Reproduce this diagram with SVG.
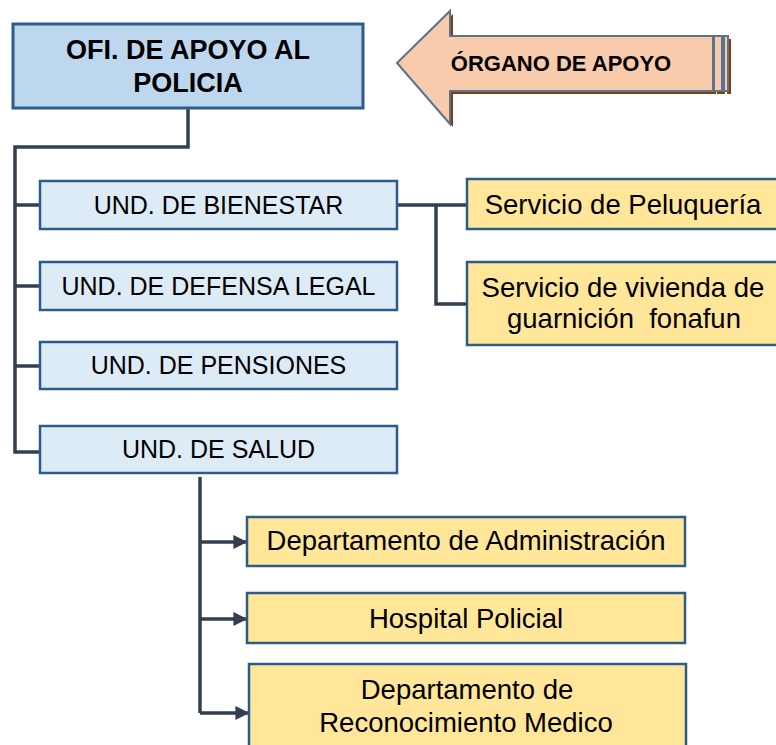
<svg xmlns="http://www.w3.org/2000/svg" width="776" height="745" viewBox="0 0 776 745">
<defs>
<style>
.top{fill:#BDD7EE;stroke:#2E5C8A;stroke-width:3}
.unit{fill:#DDEBF7;stroke:#2E5C8A;stroke-width:2.5}
.sub{fill:#FFE699;stroke:#2E5C8A;stroke-width:2.5}
.conn{fill:none;stroke:#333F50;stroke-width:3.5}
text{font-family:"Liberation Sans",Arial,sans-serif;fill:#000;text-anchor:middle}
.tb{font-size:27px;font-weight:bold}
.tu{font-size:25px}
.ts{font-size:27.5px}
.ta{font-size:22px;font-weight:bold}
</style>
<marker id="ah" viewBox="0 0 10 10" refX="9" refY="5" markerWidth="4" markerHeight="4" markerUnits="strokeWidth" orient="auto">
<path d="M0,0 L10,5 L0,10 z" fill="#333F50"/>
</marker>
</defs>
<rect width="776" height="745" fill="#fff"/>

<g id="connectors">
<path class="conn" d="M188,108 V147 H15 V452 H40"/>
<path class="conn" d="M15,205 H40"/>
<path class="conn" d="M15,286 H40"/>
<path class="conn" d="M15,366 H40"/>
<path class="conn" d="M397,205 H467"/>
<path class="conn" d="M436,205 V304 H467"/>
<path class="conn" d="M200,477 V713"/>
<path class="conn" d="M200,542 H246" marker-end="url(#ah)"/>
<path class="conn" d="M200,619 H246" marker-end="url(#ah)"/>
<path class="conn" d="M200,713 H248" marker-end="url(#ah)"/>
</g>

<g id="organo-apoyo">
<g transform="translate(3,3)" fill="#843C0C">
<polygon points="397,63 450,11 450,36 713,36 713,91 450,91 450,124"/>
<rect x="714" y="36" width="8" height="55"/>
<rect x="724" y="36" width="4" height="55"/>
</g>
<g fill="#F8CBAD" stroke="#5A7391" stroke-width="2">
<polygon points="397,63 450,11 450,36 713,36 713,91 450,91 450,124"/>
<rect x="714" y="36" width="8" height="55"/>
<rect x="724" y="36" width="4" height="55"/>
</g>
<text class="ta" x="561" y="71">ÓRGANO DE APOYO</text>
</g>

<g id="ofi-apoyo">
<rect class="top" x="13" y="24" width="350" height="84"/>
<text class="tb" x="188" y="59">OFI. DE APOYO AL</text>
<text class="tb" x="188" y="92">POLICIA</text>
</g>

<g id="und-bienestar">
<rect class="unit" x="40" y="181" width="357" height="48"/>
<text class="tu" x="218.5" y="214">UND. DE BIENESTAR</text>
</g>
<g id="und-defensa">
<rect class="unit" x="40" y="262" width="357" height="48"/>
<text class="tu" x="218.5" y="295">UND. DE DEFENSA LEGAL</text>
</g>
<g id="und-pensiones">
<rect class="unit" x="40" y="342" width="357" height="47"/>
<text class="tu" x="218.5" y="374">UND. DE PENSIONES</text>
</g>
<g id="und-salud">
<rect class="unit" x="40" y="426" width="357" height="47"/>
<text class="tu" x="218.5" y="458">UND. DE SALUD</text>
</g>

<g id="peluqueria">
<rect class="sub" x="467" y="179" width="312" height="50"/>
<text class="ts" x="623" y="214">Servicio de Peluquería</text>
</g>
<g id="vivienda">
<rect class="sub" x="467" y="262" width="312" height="83"/>
<text class="ts" x="623" y="297">Servicio de vivienda de</text>
<text class="ts" x="624" y="328" xml:space="preserve">guarnición  fonafun</text>
</g>

<g id="dep-admin">
<rect class="sub" x="247" y="517" width="438" height="49"/>
<text class="ts" x="466" y="550">Departamento de Administración</text>
</g>
<g id="hospital">
<rect class="sub" x="247" y="593" width="438" height="50"/>
<text class="ts" x="466" y="628">Hospital Policial</text>
</g>
<g id="dep-reconocimiento">
<rect class="sub" x="249" y="664" width="437" height="90"/>
<text class="ts" x="467" y="699">Departamento de</text>
<text class="ts" x="466" y="732">Reconocimiento Medico</text>
</g>
</svg>
